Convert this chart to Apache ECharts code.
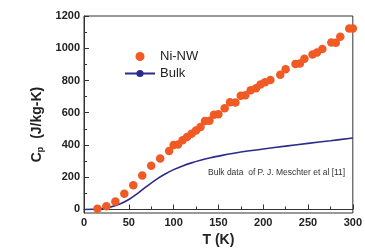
<!DOCTYPE html>
<html lang="en" style="height: 100%">

<head>
  <meta charset="utf-8">
</head>

<body style="height: 100%; margin: 0">
  <div id="container" style="width: 365px; height: 252px"></div>

  <script type="text/javascript" src="https://cdn.jsdelivr.net/npm/echarts@6/dist/echarts.min.js"></script>
  <script type="text/javascript">
    // Ni nanowire specific heat
    var nwT = [15, 25, 35, 45, 55, 65, 75, 85, 95, 100, 105, 110, 115, 120, 125, 130, 135, 140, 145, 150,
      157, 163, 169, 175, 180, 186, 192, 197, 202, 208, 219, 225, 236, 241, 246, 255, 260, 266, 276, 281,
      286, 296, 300];
    var nwCp = [5, 20, 50, 97, 150, 210, 271, 316, 362, 400, 403, 430, 450, 470, 490, 512, 548, 550, 587, 590,
      628, 665, 664, 706, 708, 740, 752, 775, 789, 803, 836, 870, 903, 905, 935, 961, 973, 995, 1036, 1034,
      1072, 1123, 1123];

    // bulk Ni curve
    var bulkT = [0, 10, 20, 30, 40, 50, 60, 70, 80, 90, 100, 110, 120, 130, 140, 150, 175, 200, 225, 250, 275, 300];
    var bulkCp = [0, 1, 5, 16, 34, 62, 100, 143, 184, 218, 247, 270, 289, 305, 319, 331, 356, 375, 393, 410, 426, 443];

    var yLabels = [0, 200, 400, 600, 800, 1000, 1200];
    var yMinor = [100, 300, 500, 700, 900, 1100];

    var dom = document.getElementById('container');
    var myChart = echarts.init(dom, null, { renderer: 'canvas' });

    var font = 'Liberation Sans, Arial, sans-serif';

    var option = {
      backgroundColor: '#fff',
      animation: false,
      grid: {
        left: 84,
        right: 11,
        top: 16,
        bottom: 35,
        show: true,
        borderColor: '#333',
        borderWidth: 1
      },
      legend: {
        orient: 'vertical',
        left: 119,
        top: 45,
        itemWidth: 30,
        itemHeight: 9,
        itemGap: 4,
        textStyle: { fontFamily: font, fontSize: 13, color: '#222' },
        data: ['Ni-NW', 'Bulk']
      },
      graphic: [{
        type: 'text',
        left: 208,
        top: 168,
        style: {
          text: 'Bulk data  of P. J. Meschter et al [11]',
          fontFamily: font,
          fontSize: 8.5,
          fill: '#333'
        }
      }],
      xAxis: {
        type: 'value',
        min: 0,
        max: 300,
        interval: 50,
        name: 'T (K)',
        nameLocation: 'middle',
        nameGap: 20,
        nameTextStyle: { fontFamily: font, fontSize: 14, fontWeight: 'bold', color: '#222' },
        axisLine: { lineStyle: { color: '#333' } },
        axisTick: { inside: true, length: 5, lineStyle: { color: '#333' } },
        minorTick: { show: true, splitNumber: 2, length: 3, lineStyle: { color: '#333' } },
        axisLabel: { fontFamily: font, fontSize: 11, fontWeight: 'bold', color: '#222', margin: 4 },
        splitLine: { show: false }
      },
      yAxis: [{
        type: 'value',
        min: -22,
        max: 1200,
        name: '{c|C}{p|p}{c|  (J/kg-K)}',
        nameLocation: 'middle',
        nameGap: 36,
        nameRotate: 90,
        nameTextStyle: {
          padding: [0, 20, 0, 0],
          rich: {
            c: { fontFamily: font, fontSize: 14, fontWeight: 'bold', color: '#222' },
            p: { fontFamily: font, fontSize: 9, fontWeight: 'bold', color: '#222', verticalAlign: 'bottom', padding: [6, 0, 0, 0] }
          }
        },
        axisLine: { show: true, lineStyle: { color: '#333' } },
        axisTick: { show: true, inside: true, length: 5, customValues: yLabels, lineStyle: { color: '#333' } },
        axisLabel: {
          customValues: yLabels,
          formatter: function (v) { return String(v); },
          fontFamily: font, fontSize: 11, fontWeight: 'bold', color: '#222', margin: 4
        },
        splitLine: { show: false }
      }, {
        type: 'value',
        min: -22,
        max: 1200,
        position: 'left',
        axisLine: { show: false },
        axisTick: { show: true, inside: true, length: 3, customValues: yMinor, lineStyle: { color: '#333' } },
        axisLabel: { show: false },
        splitLine: { show: false }
      }],
      series: [
        {
          name: 'Bulk',
          type: 'line',
          symbol: 'none',
          smooth: 0.4,
          lineStyle: { color: '#2b2b8c', width: 1.6 },
          itemStyle: { color: '#2b2b8c' },
          data: bulkT.map(function (t, i) { return [t, bulkCp[i]]; }),
          z: 2
        },
        {
          name: 'Ni-NW',
          type: 'scatter',
          symbol: 'circle',
          symbolSize: 8.5,
          itemStyle: { color: '#f05a24', opacity: 1 },
          data: nwT.map(function (t, i) { return [t, nwCp[i]]; }),
          z: 3
        }
      ]
    };

    myChart.setOption(option);
    window.addEventListener('resize', myChart.resize);
  </script>
</body>

</html>
